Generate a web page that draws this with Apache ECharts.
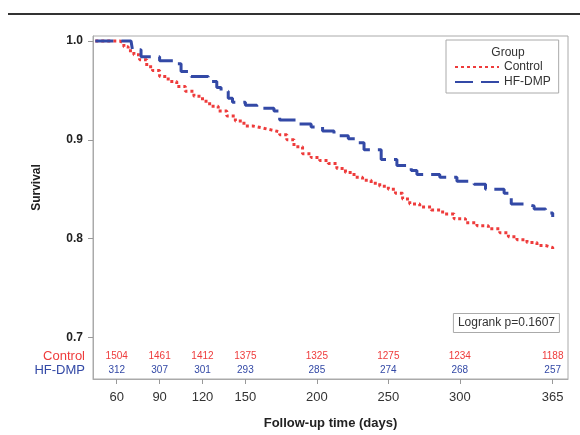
<!DOCTYPE html>
<html>
<head>
<meta charset="utf-8">
<script src="https://cdn.jsdelivr.net/npm/echarts@6/dist/echarts.min.js"></script>
<style>
html,body{margin:0;padding:0;background:#fff;}
#chart{width:580px;height:435px;}
</style>
</head>
<body>
<div id="chart"></div>
<script>
// ---- Data ----
var controlDays = [45, 62, 65, 68, 72, 76, 81, 85, 90, 96, 102, 108, 114, 120, 125, 131, 137, 143, 149, 155, 162, 168, 174, 179, 184, 190, 196, 202, 208, 214, 220, 226, 232, 238, 244, 250, 255, 260, 265, 272, 280, 288, 296, 304, 312, 320, 328, 334, 340, 347, 354, 360, 365];
var controlSurv = [1.0, 0.998, 0.994, 0.990, 0.986, 0.981, 0.974, 0.970, 0.964, 0.959, 0.954, 0.949, 0.944, 0.939, 0.934, 0.929, 0.924, 0.919, 0.914, 0.912, 0.910, 0.908, 0.905, 0.900, 0.893, 0.886, 0.882, 0.879, 0.876, 0.871, 0.867, 0.862, 0.859, 0.856, 0.853, 0.850, 0.846, 0.840, 0.835, 0.832, 0.829, 0.825, 0.820, 0.816, 0.813, 0.810, 0.806, 0.802, 0.799, 0.796, 0.793, 0.791, 0.789];

var hfDays = [45, 70, 71, 77, 90, 100, 105, 112, 124, 130, 133, 138, 141, 150, 158, 170, 174, 186, 196, 204, 212, 222, 228, 233, 245, 256, 266, 270, 286, 298, 310, 318, 331, 336, 346, 352, 360, 365];
var hfSurv = [1.0, 1.0, 0.991, 0.984, 0.980, 0.977, 0.969, 0.964, 0.959, 0.953, 0.949, 0.942, 0.938, 0.935, 0.932, 0.929, 0.920, 0.916, 0.913, 0.909, 0.904, 0.901, 0.897, 0.890, 0.880, 0.874, 0.869, 0.865, 0.862, 0.858, 0.855, 0.850, 0.846, 0.835, 0.833, 0.830, 0.826, 0.822];

var xTicks = [60, 90, 120, 150, 200, 250, 300, 365];
var yTicks = [0.7, 0.8, 0.9, 1.0];
var controlAtRisk = [1504, 1461, 1412, 1375, 1325, 1275, 1234, 1188];
var hfAtRisk = [312, 307, 301, 293, 285, 274, 268, 257];

var groupNames = ['Control', 'HF-DMP'];
var logrankText = 'Logrank p=0.1607';

// ---- Styles ----
var RED = '#ee3b3b';
var BLUE = '#3349a6';
var FONT = '"Liberation Sans", Arial, sans-serif';
var XMIN = 43.4, XMAX = 375.7, YMIN = 0.658, YMAX = 1.005;

function pairs(xs, ys) { return xs.map(function (x, i) { return [x, ys[i]]; }); }

var chart = echarts.init(document.getElementById('chart'), null, {renderer: 'canvas'});

var riskAxis = function (counts, color, offset, name) {
  return {
    type: 'value', min: XMIN, max: XMAX, position: 'bottom', offset: offset,
    gridIndex: 0,
    axisLine: {show: false}, axisTick: {show: false}, splitLine: {show: false},
    axisLabel: {
      customValues: xTicks, margin: 0, verticalAlign: 'middle',
      fontFamily: FONT, fontSize: 10, color: color,
      formatter: function (v) { var i = xTicks.indexOf(v); return i >= 0 ? String(counts[i]) : ''; }
    },
    name: name, nameLocation: 'start', nameGap: 8,
    nameTextStyle: {color: color, fontFamily: FONT, fontSize: 13, verticalAlign: 'middle', align: 'right'}
  };
};

var option = {
  animation: false,
  backgroundColor: '#fff',
  grid: {left: 93, right: 12, top: 36, bottom: 54, show: true, borderColor: '#aaaaaa', borderWidth: 1, containLabel: false},
  title: [
    {text: 'Group', left: 503, top: 42, textAlign: 'center',
     textStyle: {fontFamily: FONT, fontSize: 12, fontWeight: 'normal', color: '#333'}},
    {text: logrankText, right: 20, top: 313, padding: [4, 5, 4, 5], borderColor: '#aaaaaa', borderWidth: 1,
     textStyle: {fontFamily: FONT, fontSize: 12, fontWeight: 'normal', color: '#333'}}
  ],
  legend: {
    orient: 'vertical', left: 446, top: 40, padding: [21, 8, 5, 8], itemGap: 3,
    itemWidth: 44, itemHeight: 10,
    itemStyle: {opacity: 0},
    borderColor: '#aaaaaa', borderWidth: 1,
    textStyle: {fontFamily: FONT, fontSize: 12, color: '#333'},
    data: groupNames
  },
  xAxis: [
    {
      type: 'value', min: XMIN, max: XMAX, position: 'bottom',
      axisLine: {show: true, lineStyle: {color: '#aaaaaa'}},
      axisTick: {show: true, customValues: xTicks, length: 5, lineStyle: {color: '#999'}},
      axisLabel: {customValues: xTicks, margin: 12, fontFamily: FONT, fontSize: 13, color: '#333'},
      splitLine: {show: false},
      name: 'Follow-up time (days)', nameLocation: 'middle', nameGap: 38,
      nameTextStyle: {fontFamily: FONT, fontSize: 13, fontWeight: 'bold', color: '#222'}
    },
    riskAxis(controlAtRisk, RED, -23, groupNames[0]),
    riskAxis(hfAtRisk, BLUE, -9, groupNames[1])
  ],
  yAxis: {
    type: 'value', min: YMIN, max: YMAX,
    axisLine: {show: true, lineStyle: {color: '#aaaaaa'}},
    axisTick: {show: true, customValues: yTicks, length: 5, lineStyle: {color: '#999'}},
    axisLabel: {customValues: yTicks, margin: 10, fontFamily: FONT, fontSize: 12, fontWeight: 'bold', color: '#222',
      formatter: function (v) { return v.toFixed(1); }},
    splitLine: {show: false},
    name: 'Survival', nameLocation: 'middle', nameGap: 50,
    nameTextStyle: {fontFamily: FONT, fontSize: 12, fontWeight: 'bold', color: '#222', padding: [0, 0, 0, 40]}
  },
  graphic: [
    {type: 'line', shape: {x1: 8, y1: 14, x2: 580, y2: 14}, style: {stroke: '#333', lineWidth: 2}}
  ],
  series: [
    {
      name: groupNames[0], type: 'line', step: 'end', symbol: 'none',
      xAxisIndex: 0, yAxisIndex: 0,
      data: pairs(controlDays, controlSurv),
      lineStyle: {color: RED, width: 3, type: [3, 3]},
      itemStyle: {color: RED}
    },
    {
      name: groupNames[1], type: 'line', step: 'end', symbol: 'none',
      xAxisIndex: 0, yAxisIndex: 0,
      data: pairs(hfDays, hfSurv),
      lineStyle: {color: BLUE, width: 3, type: [18, 8]},
      itemStyle: {color: BLUE}
    }
  ]
};
chart.setOption(option);
</script>
</body>
</html>
